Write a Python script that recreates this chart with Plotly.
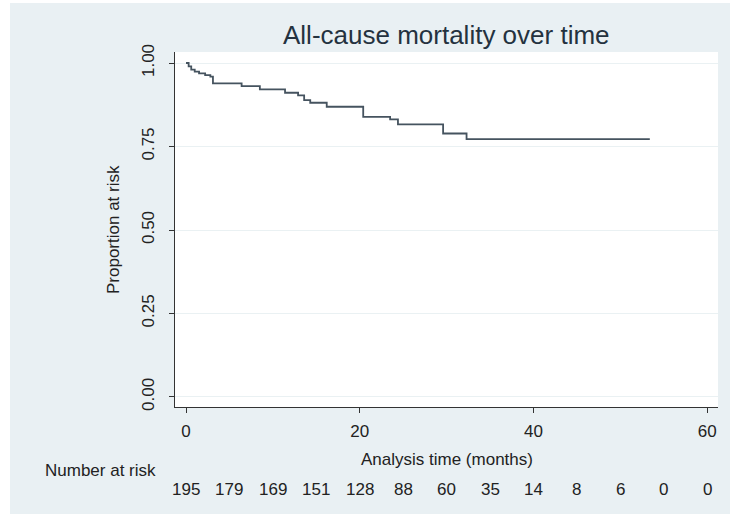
import plotly.graph_objects as go

# Kaplan-Meier step estimates
times = [0, 0.3, 0.6, 1.0, 1.5, 2.2, 2.8, 3.1, 6.4, 8.5, 11.4, 12.9, 13.6, 14.3,
         16.2, 20.4, 23.5, 24.4, 29.6, 32.3, 53.4]
surv = [1.0, 0.990, 0.980, 0.974, 0.969, 0.964, 0.959, 0.939, 0.931, 0.921, 0.911,
        0.903, 0.889, 0.881, 0.869, 0.839, 0.831, 0.816, 0.789, 0.772, 0.772]

risk_times = [0, 5, 10, 15, 20, 25, 30, 35, 40, 45, 50, 55, 60]
risk_counts = [195, 179, 169, 151, 128, 88, 60, 35, 14, 8, 6, 0, 0]

x_ticks = [0, 20, 40, 60]
y_ticks = [0, 0.25, 0.5, 0.75, 1.0]
y_ticklabels = ["0.00", "0.25", "0.50", "0.75", "1.00"]

W, H = 730, 514
L, R, T, B = 175, 12, 52, 107
PW, PH = W - L - R, H - T - B

def px(xp):
    return (xp - L) / PW

def py(yp):
    return (H - B - yp) / PH

BG = "#e9f0f3"
TXT = "#222222"
FONT = "Liberation Sans, Arial, sans-serif"

fig = go.Figure()
fig.add_trace(go.Scatter(
    x=times, y=surv, mode="lines", line=dict(color="#45535f", width=1.8, shape="hv"),
    showlegend=False, hoverinfo="skip"))

annotations = []
for t, n in zip(risk_times, risk_counts):
    annotations.append(dict(x=t, y=py(490), xref="x", yref="paper", text=str(n),
                            showarrow=False, font=dict(size=17, color=TXT, family=FONT),
                            xanchor="center", yanchor="middle"))
annotations += [
    dict(x=px(100), y=py(470), xref="paper", yref="paper", text="Number at risk",
         showarrow=False, font=dict(size=17, color=TXT, family=FONT), xanchor="center", yanchor="middle"),
    dict(x=px(447), y=py(459), xref="paper", yref="paper", text="Analysis time (months)",
         showarrow=False, font=dict(size=17, color=TXT, family=FONT), xanchor="center", yanchor="middle"),
    dict(x=px(113), y=py(230), xref="paper", yref="paper", text="Proportion at risk",
         showarrow=False, textangle=-90, font=dict(size=17, color=TXT, family=FONT),
         xanchor="center", yanchor="middle"),
    dict(x=px(446), y=py(35), xref="paper", yref="paper", text="All-cause mortality over time",
         showarrow=False, font=dict(size=26, color="#24323f", family=FONT),
         xanchor="center", yanchor="middle"),
]

shapes = [
    dict(type="rect", xref="paper", yref="paper", x0=px(0), x1=px(10), y0=py(514), y1=py(0),
         fillcolor="white", line=dict(width=0), layer="above"),
    dict(type="rect", xref="paper", yref="paper", x0=px(0), x1=px(730), y0=py(3), y1=py(0),
         fillcolor="white", line=dict(width=0), layer="above"),
]

fig.update_layout(
    width=W, height=H,
    margin=dict(l=L, r=R, t=T, b=B),
    paper_bgcolor=BG, plot_bgcolor="white",
    font=dict(family=FONT, size=17, color=TXT),
    annotations=annotations, shapes=shapes,
    xaxis=dict(range=[-1.27, 61.25], tickvals=x_ticks, ticks="outside", ticklen=5,
               tickcolor="#333", showline=True, linecolor="#333", linewidth=1,
               showgrid=False, zeroline=False, tickfont=dict(size=17, color=TXT),
               ticklabelstandoff=4),
    yaxis=dict(range=[-0.03, 1.033], tickvals=y_ticks, ticktext=y_ticklabels, ticks="outside",
               ticklen=5, tickcolor="#333", showline=True, linecolor="#333", linewidth=1,
               showgrid=True, gridcolor="#eaf1f3", gridwidth=1, zeroline=False,
               tickangle=-90, tickfont=dict(size=17, color=TXT), ticklabelstandoff=8),
)

fig.write_html("out.html", config={"displayModeBar": False},
               post_script="document.body.style.margin='0';document.body.style.padding='0';")
